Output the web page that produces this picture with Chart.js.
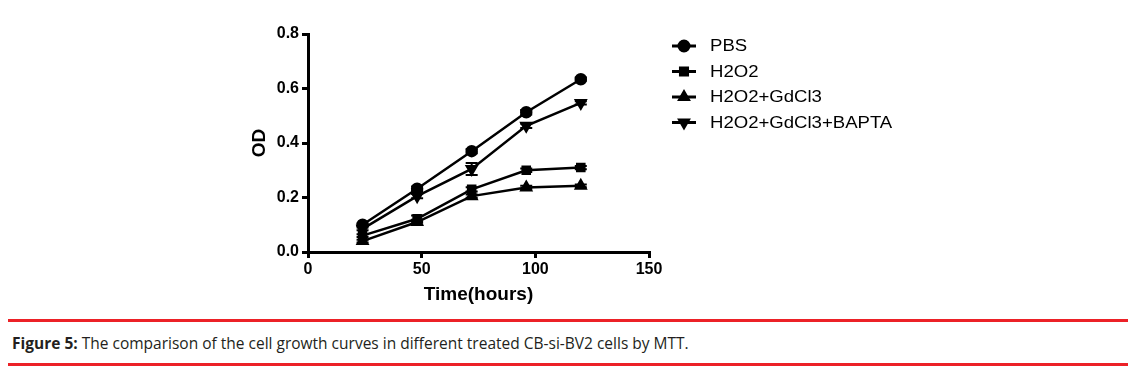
<!DOCTYPE html>
<html>
<head>
<meta charset="utf-8">
<script src="https://cdn.jsdelivr.net/npm/chart.js@4.4.0/dist/chart.umd.min.js"></script>
<style>
  body { margin: 0; background: #fff; width: 1136px; height: 373px; position: relative; overflow: hidden; }
  #wrap { position: absolute; left: 0; top: 0; width: 1136px; height: 310px; }
  .rule { position: absolute; left: 8px; width: 1120px; height: 3px; background: #ec2127; }
  #caption { position: absolute; left: 12px; top: 332px; font-family: "Open Sans", "Liberation Sans", sans-serif; font-size: 15.5px; color: #231f20; }
</style>
</head>
<body>
<div id="wrap"><canvas id="growthChart"></canvas></div>
<div class="rule" style="top:319px"></div>
<div id="caption"><b>Figure 5:</b> The comparison of the cell growth curves in different treated CB-si-BV2 cells by MTT.</div>
<div class="rule" style="top:363px"></div>
<script>
// Time points (hours)
const hours = [24, 48, 72, 96, 120];

// OD values
const pbs = [0.100, 0.232, 0.370, 0.513, 0.634];
const h2o2 = [0.060, 0.122, 0.230, 0.300, 0.310];
const h2o2Gd = [0.040, 0.110, 0.205, 0.237, 0.243];
const h2o2GdBapta = [0.085, 0.205, 0.305, 0.463, 0.547];

// error (SD) estimates, mostly hidden behind markers
const pbsErr = [0.005, 0.008, 0.008, 0.008, 0.006];
const h2o2Err = [0.005, 0.012, 0.008, 0.006, 0.006];
const h2o2GdErr = [0.005, 0.008, 0.006, 0.006, 0.005];
const h2o2GdBaptaErr = [0.005, 0.008, 0.022, 0.008, 0.006];

const seriesNames = ['PBS', 'H2O2', 'H2O2+GdCl3', 'H2O2+GdCl3+BAPTA'];
const xTicks = [0, 50, 100, 150];
const yTicks = [0, 0.2, 0.4, 0.6, 0.8];

const pointStyles = ['circle', 'rect', 'triangle', 'triangle'];
const rotations = [0, 0, 0, 180];
const radii = [5, 5, 5.5, 5.5];

function toPoints(vals) {
    return vals.map((v, i) => ({ x: hours[i], y: v }));
}

const allValues = [pbs, h2o2, h2o2Gd, h2o2GdBapta];
const allErrors = [pbsErr, h2o2Err, h2o2GdErr, h2o2GdBaptaErr];

// Error bars drawn through the chart scales
const errorBars = {
    id: 'errorBars',
    beforeDatasetsDraw(chart) {
        const { ctx, scales: { x, y } } = chart;
        ctx.save();
        ctx.strokeStyle = '#000';
        ctx.lineWidth = 2;
        allValues.forEach((vals, s) => {
            vals.forEach((v, i) => {
                const e = allErrors[s][i];
                const px = x.getPixelForValue(hours[i]);
                const top = y.getPixelForValue(v + e);
                const bot = y.getPixelForValue(v - e);
                ctx.beginPath();
                ctx.moveTo(px, top); ctx.lineTo(px, bot);
                ctx.moveTo(px - 6, top); ctx.lineTo(px + 6, top);
                ctx.moveTo(px - 6, bot); ctx.lineTo(px + 6, bot);
                ctx.stroke();
            });
        });
        ctx.restore();
    }
};

// Legend with line + marker, like the original (text slightly stretched)
const sideLegend = {
    id: 'sideLegend',
    afterDraw(chart) {
        const ctx = chart.ctx;
        ctx.save();
        ctx.font = '16px "Liberation Sans", Arial, sans-serif';
        ctx.textBaseline = 'middle';
        seriesNames.forEach((name, i) => {
            const yPos = 46 + i * 25.5;
            ctx.strokeStyle = '#000';
            ctx.lineWidth = 3;
            ctx.beginPath();
            ctx.moveTo(672, yPos); ctx.lineTo(696, yPos);
            ctx.stroke();
            ctx.fillStyle = '#000';
            Chart.helpers.drawPoint(ctx, {
                pointStyle: pointStyles[i], rotation: rotations[i],
                radius: 5, borderWidth: 1
            }, 684, yPos);
            ctx.fill();
            ctx.save();
            ctx.translate(710, yPos + 1);
            ctx.scale(1.16, 1);
            ctx.fillText(name, 0, 0);
            ctx.restore();
        });
        ctx.restore();
    }
};

const tickFont = { family: '"Liberation Sans", Arial, sans-serif', size: 16, weight: 'bold' };
const titleFont = { family: '"Liberation Sans", Arial, sans-serif', size: 19, weight: 'bold' };

const ctx = document.getElementById('growthChart');
new Chart(ctx, {
    type: 'line',
    data: {
        datasets: allValues.map((vals, i) => ({
            label: seriesNames[i],
            data: toPoints(vals),
            borderColor: '#000',
            backgroundColor: '#000',
            borderWidth: 2.5,
            pointStyle: pointStyles[i],
            pointRotation: rotations[i],
            pointRadius: radii[i],
            pointBackgroundColor: '#000',
            pointBorderColor: '#000',
            tension: 0
        }))
    },
    options: {
        responsive: true,
        maintainAspectRatio: false,
        animation: false,
        layout: { padding: { left: 240, right: 487, top: 34, bottom: 0 } },
        plugins: {
            legend: { display: false },
            tooltip: { enabled: false }
        },
        scales: {
            x: {
                type: 'linear',
                min: 0, max: 150,
                afterBuildTicks: axis => { axis.ticks = xTicks.map(v => ({ value: v })); },
                afterFit: axis => { axis.height = 58; },
                border: { display: true, color: '#000', width: 3 },
                grid: { display: true, drawOnChartArea: false, drawTicks: true, tickLength: 6, color: '#000', lineWidth: 3 },
                ticks: { color: '#000', padding: 2, font: tickFont },
                title: { display: true, text: 'Time(hours)', color: '#000', padding: { top: 8 }, font: titleFont }
            },
            y: {
                min: 0, max: 0.8,
                afterBuildTicks: axis => { axis.ticks = yTicks.map(v => ({ value: v })); },
                afterFit: axis => { axis.width = 68; },
                border: { display: true, color: '#000', width: 3 },
                grid: { display: true, drawOnChartArea: false, drawTicks: true, tickLength: 6, color: '#000', lineWidth: 3 },
                ticks: { color: '#000', padding: 3, callback: v => v.toFixed(1), font: tickFont },
                title: { display: true, text: 'OD', color: '#000', padding: { top: 8, bottom: 0 }, font: titleFont }
            }
        }
    },
    plugins: [errorBars, sideLegend]
});
</script>
</body>
</html>
